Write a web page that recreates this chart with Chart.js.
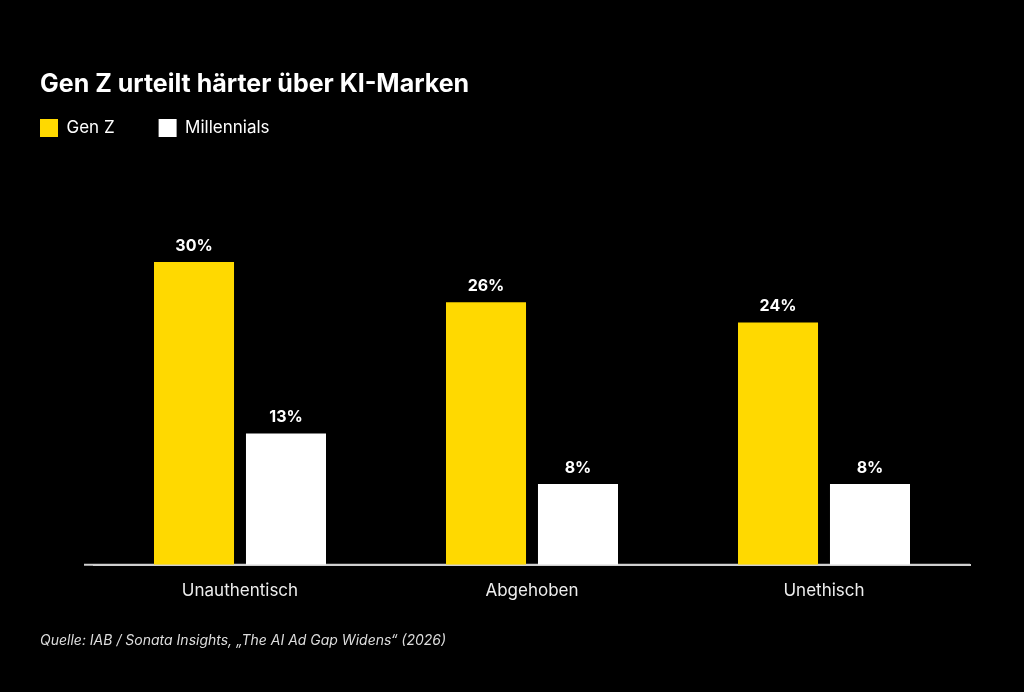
<!DOCTYPE html>
<html>
<head>
<meta charset="utf-8">
<script src="https://cdn.jsdelivr.net/npm/chart.js@4.4.0/dist/chart.umd.min.js"></script>
<style>
    html, body { margin: 0; padding: 0; background: #000; }
    #wrap { width: 1024px; height: 692px; }
</style>
</head>
<body>
<div id="wrap"><canvas id="kiChart"></canvas></div>
<script>

const categories = ['Unauthentisch', 'Abgehoben', 'Unethisch'];
const genZ = [30, 26, 24];
const millennials = [13, 8, 8];

// Value labels above each bar + slightly longer baseline on the left
const valueLabels = {
    id: 'valueLabels',
    afterLayout(chart) {
        // legend items start at left + padding, pull them back to the title edge
        const lg = chart.legend;
        const pad = lg.options.labels.padding;
        lg.left -= pad;
        lg.right -= pad;
        lg.top -= 24;
        lg.bottom -= 24;
    },
    beforeDatasetsDraw(chart) {
        const ctx = chart.ctx;
        const x = chart.scales.x;
        ctx.save();
        ctx.strokeStyle = '#d0d0d0';
        ctx.lineWidth = 2;
        ctx.beginPath();
        ctx.moveTo(x.left - 10, x.top);
        ctx.lineTo(x.right, x.top);
        ctx.stroke();
        ctx.restore();
    },
    afterDatasetsDraw(chart) {
        const ctx = chart.ctx;
        ctx.save();
        ctx.font = 'bold 16px Inter';
        ctx.fillStyle = '#ffffff';
        ctx.textAlign = 'center';
        ctx.textBaseline = 'bottom';
        chart.data.datasets.forEach((ds, i) => {
            chart.getDatasetMeta(i).data.forEach((bar, j) => {
                ctx.fillText(ds.data[j] + '%', bar.x, bar.y - 8);
            });
        });
        ctx.restore();
    }
};

const ctx = document.getElementById('kiChart').getContext('2d');
const kiChart = new Chart(ctx, {

    type: 'bar',

    data: {

        labels: categories,

        datasets: [{
            label: 'Gen Z',
            data: genZ,
            backgroundColor: '#ffd900'
        }, {
            label: 'Millennials',
            data: millennials,
            backgroundColor: '#ffffff'
        }]
    },
    options: {
        responsive: true,
        maintainAspectRatio: false,
        animation: false,
        categoryPercentage: 0.63,
        barPercentage: 0.87,
        layout: { padding: { top: 69, left: 40, right: 54, bottom: 43 } },
        plugins: {
            title: {
                display: true,
                text: 'Gen Z urteilt härter über KI-Marken',
                align: 'start',
                color: '#ffffff',
                font: { family: 'Inter', size: 25, weight: 'bold' },
                padding: { top: 0, bottom: 0 }
            },
            legend: {
                align: 'start',
                labels: {
                    color: '#ffffff',
                    font: { family: 'Inter', size: 17 },
                    boxWidth: 18,
                    boxHeight: 18,
                    padding: 44
                }
            },
            subtitle: {
                display: true,
                position: 'bottom',
                align: 'start',
                text: 'Quelle: IAB / Sonata Insights, „The AI Ad Gap Widens“ (2026)',
                color: '#dddddd',
                font: { family: 'Inter', size: 14, style: 'italic' },
                padding: { top: 23, bottom: 0 }
            },
            tooltip: { enabled: false }
        },
        scales: {
            x: {
                grid: { display: false },
                border: { color: '#d0d0d0', width: 2 },
                ticks: {
                    color: '#eeeeee',
                    font: { family: 'Inter', size: 17 },
                    padding: 8
                }
            },
            y: {
                min: 0,
                max: 39,
                grid: { display: false },
                border: { display: false },
                ticks: { display: false },
                afterFit: (scale) => { scale.width = 54; }
            }
        }
    },
    plugins: [valueLabels]
});

</script>
</body>
</html>
